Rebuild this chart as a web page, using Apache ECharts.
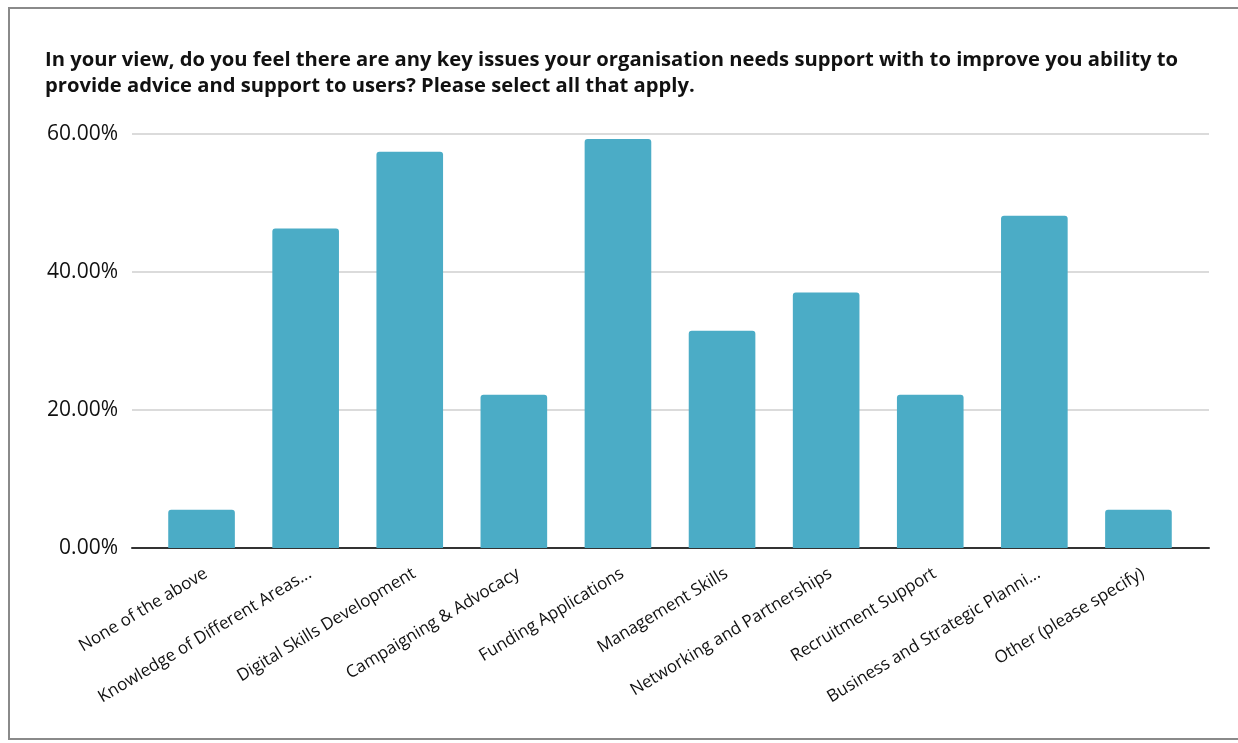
<!DOCTYPE html>
<html>
<head>
<meta charset="utf-8">
<script src="https://cdn.jsdelivr.net/npm/echarts@6/dist/echarts.min.js"></script>
<style>
  html, body { margin: 0; padding: 0; background: #fff; }
  #frame { position: absolute; left: 8px; top: 7px; width: 1240px; height: 733px; border: 2px solid #8a8a8a; box-sizing: border-box; }
  #chart { position: absolute; left: 0; top: 0; width: 1238px; height: 743px; }
</style>
</head>
<body>
<div id="frame"></div>
<div id="chart"></div>
<script>
// Survey responses: share of organisations selecting each support need
const categories = [
  'None of the above',
  'Knowledge of Different Areas...',
  'Digital Skills Development',
  'Campaigning & Advocacy',
  'Funding Applications',
  'Management Skills',
  'Networking and Partnerships',
  'Recruitment Support',
  'Business and Strategic Planni...',
  'Other (please specify)'
];
const percentages = [5.56, 46.30, 57.41, 22.22, 59.26, 31.48, 37.04, 22.22, 48.15, 5.56];
const yTicks = [0, 20, 40, 60];

const titleText = 'In your view, do you feel there are any key issues your organisation needs support with to improve you ability to\nprovide advice and support to users? Please select all that apply.';

const yMin = yTicks[0];
const yMax = yTicks[yTicks.length - 1];
const yStep = yTicks[1] - yTicks[0];

const chart = echarts.init(document.getElementById('chart'), null, { renderer: 'canvas' });
chart.setOption({
  animation: false,
  backgroundColor: 'transparent',
  title: {
    text: titleText,
    left: 40,
    top: 42,
    textStyle: {
      fontFamily: 'Open Sans',
      fontWeight: 'bold',
      fontSize: 20.2,
      lineHeight: 26,
      color: '#111'
    }
  },
  // grid 0 carries the value axis, gridlines and baseline across the full width;
  // grid 1 holds the category bars, inset a little from both ends
  grid: [
    { left: 132, right: 29, top: 134, bottom: 195 },
    { left: 149.5, right: 47.5, top: 134, bottom: 195 }
  ],
  xAxis: [
    {
      gridIndex: 0,
      type: 'category',
      data: categories,
      axisTick: { show: false },
      axisLabel: { show: false },
      axisLine: { lineStyle: { color: '#333', width: 2 } }
    },
    {
      gridIndex: 1,
      type: 'category',
      data: categories,
      axisTick: { show: false },
      axisLine: { show: false },
      axisLabel: {
        interval: 0,
        rotate: 31,
        margin: 17,
        verticalAlign: 'top',
        fontFamily: 'Open Sans',
        fontSize: 17,
        color: '#111'
      }
    }
  ],
  yAxis: [
    {
      gridIndex: 0,
      type: 'value',
      min: yMin,
      max: yMax,
      interval: yStep,
      axisLine: { show: false },
      axisTick: { show: false },
      splitLine: { lineStyle: { color: '#cfcfcf', width: 1.5 } },
      axisLabel: {
        margin: 14,
        fontFamily: 'Open Sans',
        fontSize: 21,
        color: '#111',
        formatter: v => v.toFixed(2) + '%'
      }
    },
    {
      gridIndex: 1,
      type: 'value',
      min: yMin,
      max: yMax,
      interval: yStep,
      show: false,
      splitLine: { show: false }
    }
  ],
  series: [{
    type: 'bar',
    xAxisIndex: 1,
    yAxisIndex: 1,
    data: percentages,
    barWidth: '64%',
    z: 3,
    itemStyle: { color: '#4BACC6', borderRadius: [3, 3, 0, 0] }
  }]
});
</script>
</body>
</html>
